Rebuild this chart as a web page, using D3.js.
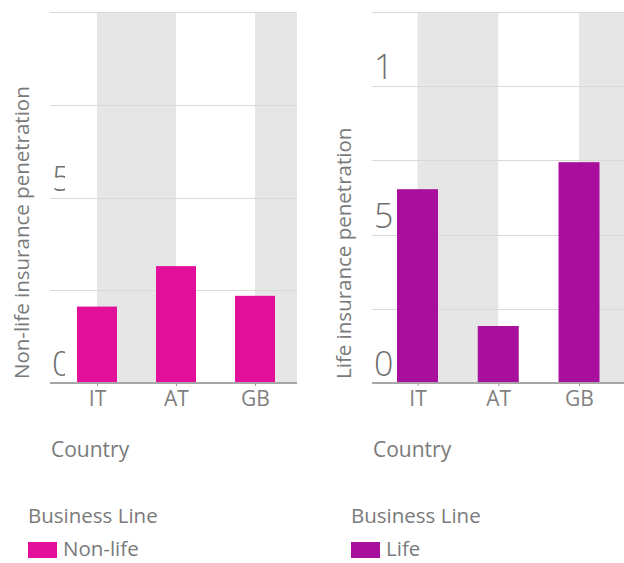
<!DOCTYPE html>
<html>
<head>
<meta charset="utf-8">
<script src="https://cdn.jsdelivr.net/npm/d3@7"></script>
<style>
  html, body { margin: 0; padding: 0; background: #fff; }
  svg { display: block; }
  text { font-family: "Open Sans", "Noto Sans", sans-serif; }
</style>
</head>
<body>
<svg id="chart" width="624" height="563"></svg>
<script>
// Insurance penetration by country, split by business line
const countries = ["IT", "AT", "GB"];
const nonLifeValues = [2.06, 3.15, 2.35];
const lifeValues = [6.53, 1.92, 7.44];
const nonLifeTicks = [0, 2.5, 5, 7.5, 10];
const lifeTicks = [0, 2.5, 5, 7.5, 10, 12.5];
const labelledTicks = [0, 5, 10];
const businessLines = ["Non-life", "Life"];
const lineColors = ["#e20f9a", "#a70f9c"];

const svg = d3.select("#chart");

const panels = [
  {
    id: "nonlife", values: nonLifeValues, ticks: nonLifeTicks, yMax: 10,
    color: lineColors[0], legend: businessLines[0],
    yTitle: "Non-life insurance penetration",
    left: 50, right: 297, firstCenter: 97, lastCenter: 255, barW: 40,
    labelClip: 65, yTitleX: 29, titleX: 51, legendX: 28
  },
  {
    id: "life", values: lifeValues, ticks: lifeTicks, yMax: 12.5,
    color: lineColors[1], legend: businessLines[1],
    yTitle: "Life insurance penetration",
    left: 372, right: 624, firstCenter: 417.5, lastCenter: 579, barW: 41,
    labelClip: 395, yTitleX: 351, titleX: 373, legendX: 351
  }
];

const plotTop = 12, plotBase = 383;
const labelSize = 34;

panels.forEach(p => {
  const g = svg.append("g");
  const y = d3.scaleLinear().domain([0, p.yMax]).range([plotBase, plotTop]);
  const x = d3.scalePoint().domain(countries).range([p.firstCenter, p.lastCenter]);
  const step = x.step();

  // plot clip
  svg.append("clipPath").attr("id", "clip-" + p.id)
    .append("rect").attr("x", p.left).attr("y", plotTop)
    .attr("width", p.right - p.left).attr("height", plotBase - plotTop);

  // alternating background bands, starting at each even category centre
  g.append("g").attr("clip-path", `url(#clip-${p.id})`)
    .selectAll("rect").data(countries.filter((d, i) => i % 2 === 0))
    .join("rect")
    .attr("x", d => x(d)).attr("y", plotTop)
    .attr("width", step).attr("height", plotBase - plotTop)
    .attr("fill", "#e6e6e6");

  // horizontal gridlines
  g.append("g").selectAll("line").data(p.ticks.filter(t => t > 0))
    .join("line")
    .attr("x1", p.left).attr("x2", p.right)
    .attr("y1", d => Math.round(y(d)) + 0.5).attr("y2", d => Math.round(y(d)) + 0.5)
    .attr("stroke", "#d9d9d9").attr("stroke-width", 1);

  // value labels placed inside the plot, clipped at the left edge
  svg.append("clipPath").attr("id", "lclip-" + p.id)
    .append("rect").attr("x", p.left).attr("y", 0)
    .attr("width", p.labelClip - p.left).attr("height", plotBase);
  g.append("g").attr("clip-path", `url(#lclip-${p.id})`)
    .selectAll("text")
    .data(labelledTicks.filter(t => t <= p.yMax && y(t) - labelSize > 0))
    .join("text")
    .attr("x", p.left + 2).attr("y", d => y(d) - 7)
    .attr("font-size", labelSize).attr("font-weight", 300)
    .attr("fill", "#6e6e6e")
    .text(d => d3.format("d")(d));

  // bars
  g.append("g").selectAll("rect").data(countries)
    .join("rect")
    .attr("x", d => x(d) - p.barW / 2)
    .attr("y", (d, i) => y(p.values[i]))
    .attr("width", p.barW)
    .attr("height", (d, i) => plotBase - y(p.values[i]))
    .attr("fill", p.color);

  // x axis
  const axis = d3.axisBottom(x).tickSize(3).tickPadding(5);
  const ax = g.append("g").attr("transform", `translate(0,${plotBase})`).call(axis);
  ax.select(".domain").remove();
  ax.selectAll(".tick line").attr("stroke", "#999");
  ax.selectAll(".tick text")
    .attr("font-size", 21).attr("fill", "#808080")
    .attr("font-family", "'Open Sans', sans-serif");
  g.append("line")
    .attr("x1", p.left).attr("x2", p.right)
    .attr("y1", plotBase).attr("y2", plotBase)
    .attr("stroke", "#a6a6a6").attr("stroke-width", 2);

  // y axis title
  g.append("text")
    .attr("transform", `translate(${p.yTitleX},${plotBase - 4}) rotate(-90)`)
    .attr("font-size", 20.5).attr("fill", "#7a7a7a")
    .text(p.yTitle);

  // x axis title
  g.append("text")
    .attr("x", p.titleX).attr("y", 457)
    .attr("font-size", 21).attr("fill", "#7a7a7a")
    .text("Country");

  // legend
  g.append("text")
    .attr("x", p.legendX).attr("y", 523)
    .attr("font-size", 20.5).attr("fill", "#7a7a7a")
    .text("Business Line");
  g.append("rect")
    .attr("x", p.legendX).attr("y", 542)
    .attr("width", 29).attr("height", 16)
    .attr("fill", p.color);
  g.append("text")
    .attr("x", p.legendX + 35).attr("y", 556)
    .attr("font-size", 20.5).attr("fill", "#7a7a7a")
    .text(p.legend);
});
</script>
</body>
</html>
